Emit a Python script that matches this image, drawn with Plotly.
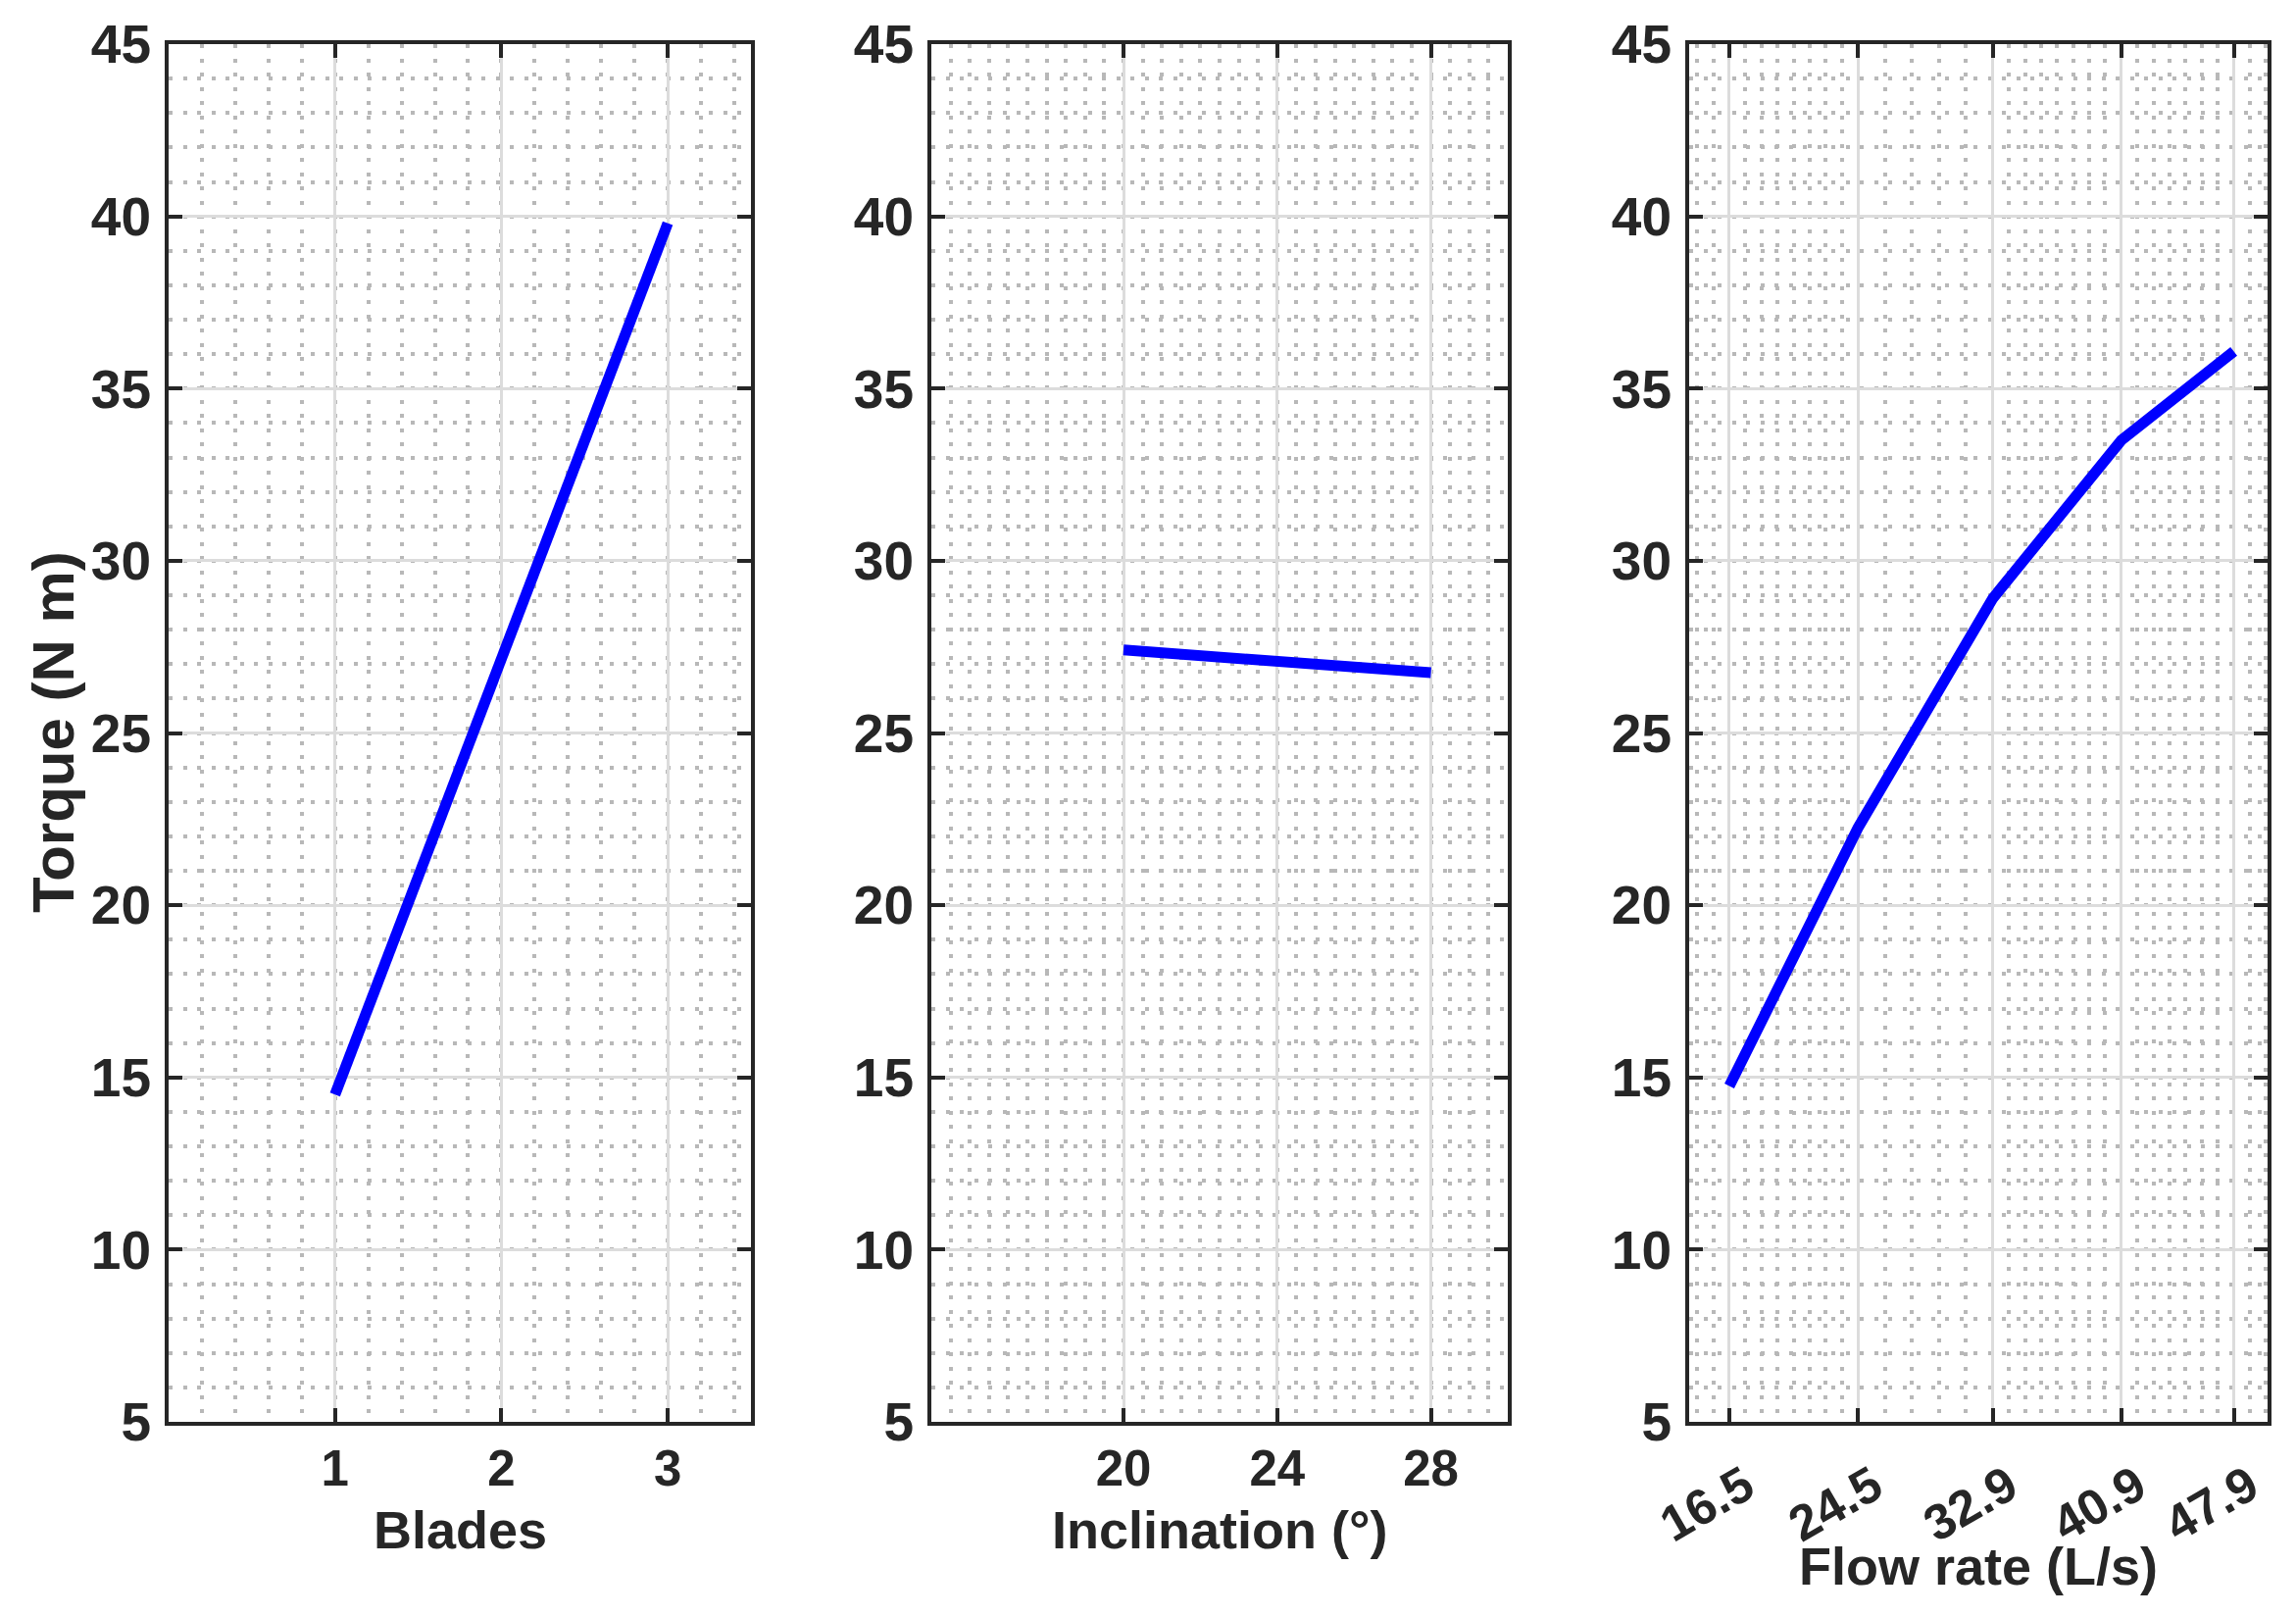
import plotly.graph_objects as go

# ---- data ----
blades = [1, 2, 3]
torque_blades = [14.5, 27.2, 39.8]

inclination = [20, 24, 28]
torque_incl = [27.41, 27.08, 26.75]

flow_rate = [16.5, 24.5, 32.9, 40.9, 47.9]
torque_flow = [14.75, 22.24, 28.91, 33.5, 36.08]

y_ticks = [5, 10, 15, 20, 25, 30, 35, 40, 45]
blades_ticks = [1, 2, 3]
incl_ticks = [20, 24, 28]
flow_ticks = [16.5, 24.5, 32.9, 40.9, 47.9]
flow_tick_text = ["16.5", "24.5", "32.9", "40.9", "47.9"]
flow_minor = [14.5, 15.5, 17.5, 18.5, 19.5, 20.5, 21.5, 22.5, 23.5,
              26.18, 27.86, 29.54, 31.22,
              33.9, 34.9, 35.9, 36.9, 37.9, 38.9, 39.9,
              41.9, 42.9, 43.9, 44.9, 45.9, 46.9, 48.9, 49.9]

# ---- style ----
W, H = 2342, 1648
TXT = "#262626"
FONT = "Liberation Sans, Arial, Helvetica, sans-serif"
TICK_FONT = dict(family=FONT, size=55, color=TXT, weight=700)
XTICK_FONT = dict(family=FONT, size=51, color=TXT, weight=700)
ROT_TICK_FONT = dict(family=FONT, size=51, color=TXT, weight=700)
TITLE_FONT = dict(family=FONT, size=54, color=TXT, weight=700)
YTITLE_FONT = dict(family=FONT, size=60, color=TXT, weight=700)
L, R, T, B = 172, 29, 45, 198
PW = W - L - R
PH = H - T - B

def dom(x0, x1):
    return [(x0 - L) / PW, (x1 - L) / PW]

def px(x):
    return (x - L) / PW

def py(y):
    return (H - B - y) / PH

common_axis = dict(
    showline=True, linecolor=TXT, linewidth=4, mirror="ticks",
    ticks="inside", ticklen=14, tickwidth=4, tickcolor=TXT,
    showgrid=True, gridcolor="#dcdcdc", gridwidth=3,
    zeroline=False, tickfont=TICK_FONT,
)
minor_style = dict(showgrid=True, gridcolor="#b8b8b8", gridwidth=4, griddash="4px,10.5px")

fig = go.Figure()
fig.add_trace(go.Scatter(x=blades, y=torque_blades, mode="lines",
                         line=dict(color="#0000ff", width=11), xaxis="x", yaxis="y"))
fig.add_trace(go.Scatter(x=inclination, y=torque_incl, mode="lines",
                         line=dict(color="#0000ff", width=11), xaxis="x2", yaxis="y2"))
fig.add_trace(go.Scatter(x=flow_rate, y=torque_flow, mode="lines",
                         line=dict(color="#0000ff", width=11), xaxis="x3", yaxis="y3"))

yaxis_base = dict(common_axis, range=[5, 45], tickmode="array", tickvals=y_ticks,
                  ticklabelstandoff=3,
                  minor=dict(minor_style, dtick=1, tick0=5))

fig.update_layout(
    width=W, height=H,
    margin=dict(l=L, r=R, t=T, b=B),
    paper_bgcolor="white", plot_bgcolor="white",
    showlegend=False,
    xaxis=dict(common_axis, domain=dom(172, 766), anchor="y", range=[0, 3.5],
               tickmode="array", tickvals=blades_ticks, ticklabelstandoff=0,
               tickfont=XTICK_FONT,
               minor=dict(minor_style, dtick=0.2, tick0=0)),
    yaxis=dict(yaxis_base, domain=[0, 1], anchor="x"),
    xaxis2=dict(common_axis, domain=dom(950, 1538), anchor="y2", range=[15, 30],
                tickmode="array", tickvals=incl_ticks, ticklabelstandoff=0,
                tickfont=XTICK_FONT,
                minor=dict(minor_style, dtick=0.5, tick0=15)),
    yaxis2=dict(yaxis_base, domain=[0, 1], anchor="x2"),
    xaxis3=dict(common_axis, domain=dom(1723, 2313), anchor="y3", range=[14, 50],
                tickmode="array", tickvals=flow_ticks, ticktext=flow_tick_text,
                tickangle=-30, ticklabelstandoff=12, ticklabelshift=16,
                tickfont=ROT_TICK_FONT,
                minor=dict(minor_style, tickmode="array", tickvals=flow_minor)),
    yaxis3=dict(yaxis_base, domain=[0, 1], anchor="x3"),
    annotations=[
        dict(text="Blades", x=px(469), y=py(1560), xref="paper", yref="paper",
             xanchor="center", yanchor="middle", showarrow=False, font=TITLE_FONT),
        dict(text="Inclination (°)", x=px(1244), y=py(1560), xref="paper", yref="paper",
             xanchor="center", yanchor="middle", showarrow=False, font=TITLE_FONT),
        dict(text="Flow rate (L/s)", x=px(2018), y=py(1597), xref="paper", yref="paper",
             xanchor="center", yanchor="middle", showarrow=False, font=TITLE_FONT),
        dict(text="Torque (N m)", x=px(54), y=py(747), xref="paper", yref="paper",
             xanchor="center", yanchor="middle", showarrow=False, textangle=-90,
             font=YTITLE_FONT),
    ],
)

fig.write_html("out.html", config={"displayModeBar": False},
               post_script="document.body.style.margin='0px';")
